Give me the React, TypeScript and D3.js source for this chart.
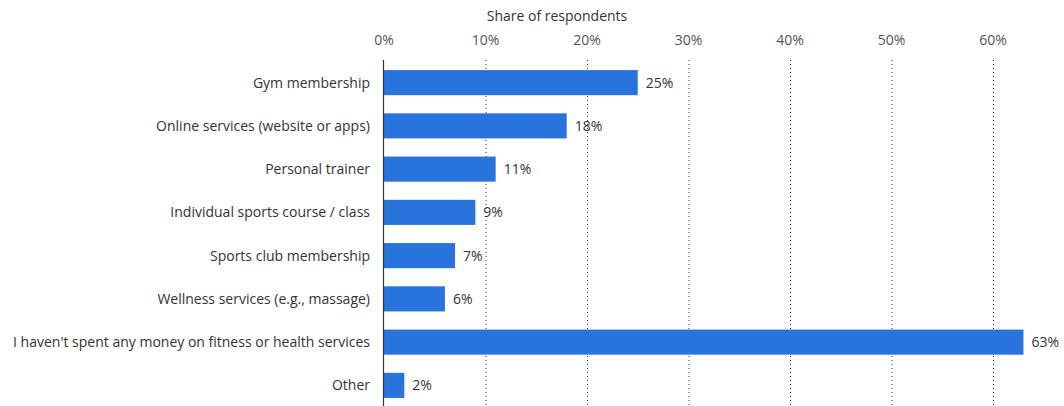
import React, { useEffect, useRef } from 'react';
import * as d3 from 'd3';

const categories = [
    'Gym membership',
    'Online services (website or apps)',
    'Personal trainer',
    'Individual sports course / class',
    'Sports club membership',
    'Wellness services (e.g., massage)',
    "I haven't spent any money on fitness or health services",
    'Other',
];
const shares = [25, 18, 11, 9, 7, 6, 63, 2];
const ticks = [0, 10, 20, 30, 40, 50, 60];

const App: React.FC = () => {
    const svgRef = useRef<SVGSVGElement>(null);

    useEffect(() => {
        if (!svgRef.current) return;
        const width = 1064;
        const height = 406;
        const font = "'Open Sans', 'Noto Sans', sans-serif";

        const svg = d3.select(svgRef.current);
        svg.selectAll('*').remove();
        svg.attr('width', width).attr('height', height);

        const x = d3.scaleLinear().domain([0, 60]).range([384, 993]);
        const y = d3.scaleBand<string>()
            .domain(categories)
            .range([61, 407])
            .paddingInner(0.42)
            .paddingOuter(0.21);

        // gridlines
        svg.append('g')
            .selectAll('line')
            .data(ticks.slice(1))
            .enter()
            .append('line')
            .attr('x1', d => x(d) + 0.5)
            .attr('x2', d => x(d) + 0.5)
            .attr('y1', 60)
            .attr('y2', height)
            .attr('stroke', '#333')
            .attr('stroke-width', 1)
            .attr('stroke-dasharray', '1,3');

        // tick labels
        svg.append('g')
            .selectAll('text')
            .data(ticks)
            .enter()
            .append('text')
            .attr('x', d => x(d))
            .attr('y', 45)
            .attr('text-anchor', 'middle')
            .style('font-family', font)
            .style('font-size', '14px')
            .style('fill', '#4b5563')
            .text(d => `${d}%`);

        svg.append('text')
            .attr('x', 557)
            .attr('y', 21)
            .attr('text-anchor', 'middle')
            .style('font-family', font)
            .style('font-size', '14px')
            .style('fill', '#333')
            .text('Share of respondents');

        // bars
        svg.append('g')
            .selectAll('rect')
            .data(shares)
            .enter()
            .append('rect')
            .attr('x', x(0))
            .attr('y', (d, i) => y(categories[i])!)
            .attr('width', d => x(d) - x(0))
            .attr('height', y.bandwidth())
            .attr('fill', '#2874dc');

        // value labels
        svg.append('g')
            .selectAll('text')
            .data(shares)
            .enter()
            .append('text')
            .attr('x', d => x(d) + 8)
            .attr('y', (d, i) => y(categories[i])! + y.bandwidth() / 2)
            .attr('dy', '0.35em')
            .style('font-family', font)
            .style('font-size', '14px')
            .style('fill', '#333')
            .text(d => `${d}%`);

        // category labels
        svg.append('g')
            .selectAll('text')
            .data(categories)
            .enter()
            .append('text')
            .attr('x', 370)
            .attr('y', d => y(d)! + y.bandwidth() / 2)
            .attr('dy', '0.35em')
            .attr('text-anchor', 'end')
            .style('font-family', font)
            .style('font-size', '14px')
            .style('fill', '#333')
            .text(d => d);

        // left axis line
        svg.append('line')
            .attr('x1', x(0) - 0.5)
            .attr('x2', x(0) - 0.5)
            .attr('y1', 60)
            .attr('y2', height)
            .attr('stroke', '#333')
            .attr('stroke-width', 1.2);
    }, []);

    return (
        <svg ref={svgRef} style={{ position: 'absolute', left: 0, top: 0, background: '#fff' }}></svg>
    );
};

export default App;
